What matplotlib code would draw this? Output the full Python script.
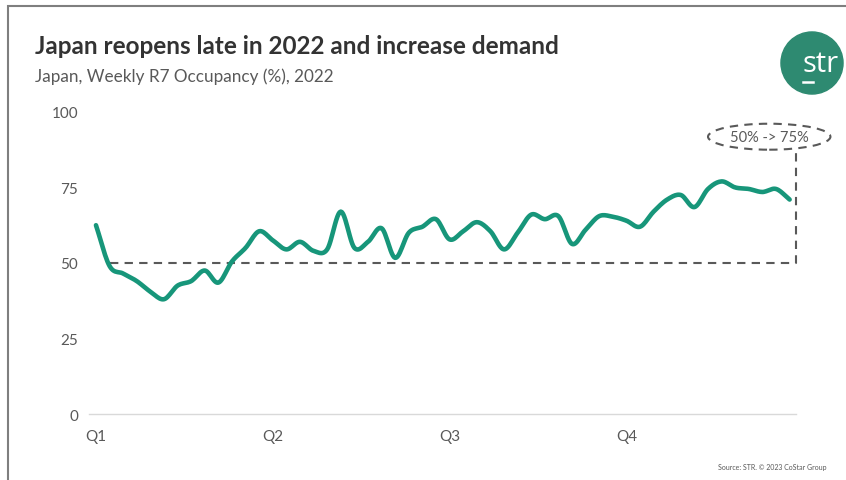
import numpy as np
import matplotlib
matplotlib.use("Agg")
import matplotlib.pyplot as plt
from matplotlib.patches import Ellipse, Circle, Rectangle

# Weekly R7 occupancy (%), Japan 2022
weeks = list(range(52))
occupancy = [62.5, 49.0, 46.5, 44.0, 40.5, 38.0, 42.5, 44.0, 47.5, 43.5,
             50.5, 55.0, 60.5, 57.5, 54.5, 57.0, 54.0, 54.5, 67.0, 55.0,
             57.0, 61.5, 51.7, 60.0, 62.0, 64.5, 57.8, 60.5, 63.5, 60.5,
             54.5, 60.0, 66.0, 64.5, 65.5, 56.3, 61.0, 65.5, 65.3, 64.0,
             62.0, 67.0, 71.0, 72.5, 68.5, 74.5, 77.0, 75.0, 74.5, 73.5,
             74.5, 71.0]
quarter_pos = [0, 13, 26, 39]
quarter_labels = ["Q1", "Q2", "Q3", "Q4"]
y_ticks = [0, 25, 50, 75, 100]
baseline = 50
callout = "50% -> 75%"

title = "Japan reopens late in 2022 and increase demand"
subtitle = "Japan, Weekly R7 Occupancy (%), 2022"
source = "Source: STR. \u00a9 2023 CoStar Group"

GREEN = "#17967a"
GREY_TXT = "#595959"
DASH = "#595959"


def smooth(x, y, n=12):
    """Catmull-Rom curve through the weekly points (smoothed line style)."""
    x = np.asarray(x, float)
    y = np.asarray(y, float)
    px = np.concatenate([[2 * x[0] - x[1]], x, [2 * x[-1] - x[-2]]])
    py = np.concatenate([[2 * y[0] - y[1]], y, [2 * y[-1] - y[-2]]])
    xs, ys = [], []
    t = np.linspace(0, 1, n, endpoint=False)
    for i in range(1, len(px) - 2):
        for p, out in ((px, xs), (py, ys)):
            p0, p1, p2, p3 = p[i - 1], p[i], p[i + 1], p[i + 2]
            out.extend(0.5 * ((2 * p1) + (-p0 + p2) * t
                              + (2 * p0 - 5 * p1 + 4 * p2 - p3) * t ** 2
                              + (-p0 + 3 * p1 - 3 * p2 + p3) * t ** 3))
    xs.append(x[-1])
    ys.append(y[-1])
    return np.array(xs), np.array(ys)


plt.rcParams["font.family"] = ["Lato", "DejaVu Sans"]

fig = plt.figure(figsize=(8.46, 4.81), dpi=100)
ax = fig.add_axes([0.1054, 0.1372, 0.836, 0.628])

sx, sy = smooth(weeks, occupancy)
ax.plot(sx, sy, color=GREEN, lw=3.3, solid_capstyle="round", zorder=3)

# dashed reference frame from the 50% level up to the callout
right_edge = len(weeks) - 0.5
top_dash = 87.7
ax.plot([1, right_edge, right_edge], [baseline, baseline, top_dash],
        color=DASH, lw=1.5, ls=(0, (4, 3)), clip_on=False, zorder=2)
ax.add_patch(Ellipse((49.5, 91.8), 9.0, 8.6, fill=False, ec=DASH, lw=1.5,
                     ls=(0, (4, 3)), clip_on=False))
ax.text(49.5, 91.8, callout, ha="center", va="center", fontsize=10.5,
        color=GREY_TXT)

ax.set_xlim(-0.5, right_edge)
ax.set_ylim(0, 100)
ax.set_yticks(y_ticks)
ax.set_xticks(quarter_pos)
ax.set_xticklabels(quarter_labels)
ax.tick_params(length=0, labelsize=11, colors=GREY_TXT)
ax.tick_params(axis="y", pad=8)
ax.tick_params(axis="x", pad=11)
for s in ["top", "right", "left"]:
    ax.spines[s].set_visible(False)
ax.spines["bottom"].set_color("#d9d9d9")
ax.spines["bottom"].set_linewidth(1)

fig.text(35 / 846, 1 - 47 / 481, title, fontsize=17.5, fontweight="bold",
         color="#333333", va="center")
fig.text(35 / 846, 1 - 77 / 481, subtitle, fontsize=12.3, color=GREY_TXT,
         va="center")
fig.text(826 / 846, 1 - 468 / 481, source, fontsize=5, color=GREY_TXT,
         ha="right", va="center")

# brand mark
logo = fig.add_axes([780 / 846, 1 - 96 / 481, 64 / 846, 64 / 481])
logo.set_xlim(-1, 1)
logo.set_ylim(-1, 1)
logo.set_aspect("equal")
logo.axis("off")
logo.add_patch(Circle((0, 0), 0.97, color="#2e8a71"))
logo.text(0.27, -0.24, "str", color="white", fontsize=21, ha="center",
          va="baseline", family=["Open Sans", "DejaVu Sans"])
logo.plot([-0.28, 0.02], [-0.6, -0.6], color="white", lw=1.8)

# outer frame
fig.patches.append(Rectangle((8 / 846, -0.01), 1.0, 1 - 7 / 481 + 0.01,
                             transform=fig.transFigure, fill=False,
                             ec="#7f7f7f", lw=1.5))

fig.savefig("out.png", dpi=100)
